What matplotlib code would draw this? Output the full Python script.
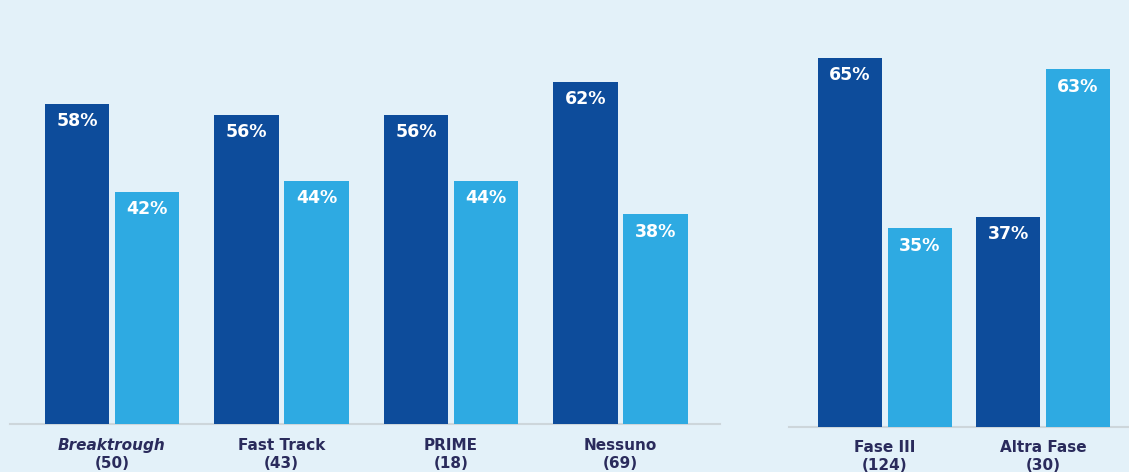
import numpy as np
import matplotlib.pyplot as plt

plt.rcParams['font.family'] = ['DejaVu Sans']

# Left panel: designation groups
designation = ['Breaktrough', 'Fast Track', 'PRIME', 'Nessuno']
designation_n = [50, 43, 18, 69]
designation_dark = [58, 56, 56, 62]
designation_light = [42, 44, 44, 38]

# Right panel: trial phase groups
phase = ['Fase III', 'Altra Fase']
phase_n = [124, 30]
phase_dark = [65, 37]
phase_light = [35, 63]

DARK = '#0d4c9b'
LIGHT = '#2eaae2'
BG = '#e3f1f9'
LABEL = '#2a2b5c'
BASE = '#cdd6db'

fig = plt.figure(figsize=(11.29, 4.72), dpi=100)
fig.patch.set_facecolor(BG)

W, H = 1129, 472


def draw_panel(ax, names, counts, dark, light, width, gap, ymax, italic_first=False,
               l1=-16, l2=-29):
    x = np.arange(len(names))
    ax.set_facecolor(BG)
    b1 = ax.bar(x - (width + gap) / 2, dark, width, color=DARK, zorder=3)
    b2 = ax.bar(x + (width + gap) / 2, light, width, color=LIGHT, zorder=3)
    for bars, vals in ((b1, dark), (b2, light)):
        for bar, v in zip(bars, vals):
            ax.annotate(f'{v}%', (bar.get_x() + bar.get_width() / 2, v),
                        xytext=(0, -12.5), textcoords='offset points',
                        ha='center', va='center', color='white',
                        fontsize=12.5, fontweight='bold', zorder=4)
    for i, (name, n) in enumerate(zip(names, counts)):
        style = 'italic' if (italic_first and i == 0) else 'normal'
        ax.annotate(name, (x[i], 0), xycoords=('data', 'axes fraction'),
                    xytext=(0, l1), textcoords='offset points',
                    ha='center', va='center', color=LABEL, fontsize=11,
                    fontweight='bold', fontstyle=style, annotation_clip=False)
        ax.annotate(f'({n})', (x[i], 0), xycoords=('data', 'axes fraction'),
                    xytext=(0, l2), textcoords='offset points',
                    ha='center', va='center', color=LABEL, fontsize=11,
                    fontweight='bold', annotation_clip=False)
    ax.axhline(0, color=BASE, lw=1.5, zorder=2, clip_on=False)
    ax.set_ylim(0, ymax)
    for s in ax.spines.values():
        s.set_visible(False)
    ax.set_xticks([])
    ax.set_yticks([])


# left axes: baseline at y=424 px, spans x 10..720 px
ax1 = fig.add_axes([10 / W, (H - 424) / H, 710 / W, 424 / H])
draw_panel(ax1, designation, designation_n, designation_dark, designation_light,
           width=0.378, gap=0.035, ymax=76.8, italic_first=True, l1=-15.8, l2=-28.8)
ax1.set_xlim(-0.602, 3.587)

# right axes: baseline at y=427 px, spans x 789..1129 px
ax2 = fig.add_axes([789 / W, (H - 427) / H, 340 / W, 427 / H])
draw_panel(ax2, phase, phase_n, phase_dark, phase_light,
           width=0.405, gap=0.038, ymax=75.2, l1=-14.4, l2=-27.4)
ax2.set_xlim(-0.608, 1.544)

fig.savefig('out.png', dpi=100, facecolor=BG)
